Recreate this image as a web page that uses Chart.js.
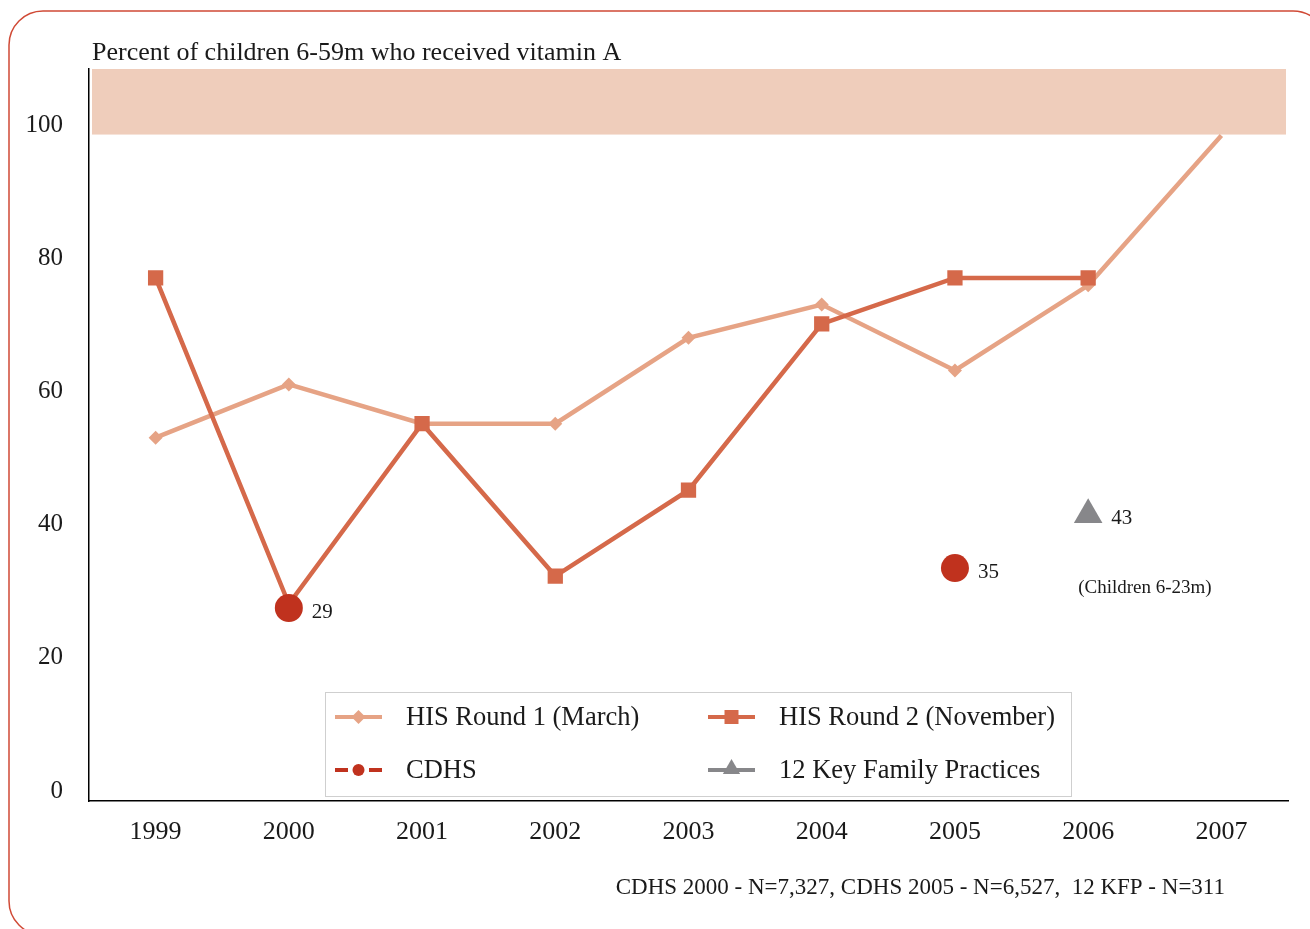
<!DOCTYPE html>
<html>
<head>
<meta charset="utf-8">
<script src="https://cdn.jsdelivr.net/npm/chart.js@4/dist/chart.umd.min.js"></script>
<style>
  html, body { margin: 0; padding: 0; background: #ffffff; }
  #wrap { position: relative; width: 1310px; height: 929px; }
</style>
</head>
<body>
<div id="wrap"><canvas id="c" width="1310" height="929"></canvas></div>
<script>
// ---- data ----
const years = ['1999', '2000', '2001', '2002', '2003', '2004', '2005', '2006', '2007'];
const hisRound1 = [54.6, 62.6, 56.7, 56.7, 69.6, 74.6, 64.7, 77.5, 100];
const hisRound2 = [78.6, 29.6, 56.7, 33.8, 46.7, 71.7, 78.6, 78.6, null];
const cdhs = [null, 29, null, null, null, null, 35, null, null];
const kfp = [null, null, null, null, null, null, null, 43, null];
const yTicks = [0, 20, 40, 60, 80, 100];
const targetBand = [100, 110];
const seriesNames = ['HIS Round 1 (March)', 'HIS Round 2 (November)', 'CDHS', '12 Key Family Practices'];
const titleText = 'Percent of children 6-59m who received vitamin A';
const noteText = '(Children 6-23m)';
const footText = 'CDHS 2000 - N=7,327, CDHS 2005 - N=6,527,  12 KFP - N=311';

const FONT = "'Liberation Serif', 'DejaVu Serif', serif";
const C1 = '#e6a385';
const C2 = '#d5694a';
const C3 = '#c0321e';
const C4 = '#87878a';
const TXT = '#1a1a1a';

function drawMarker(ctx, style, x, y, r, color) {
  ctx.save();
  ctx.fillStyle = color;
  ctx.beginPath();
  if (style === 'diamond') {
    ctx.moveTo(x, y - r); ctx.lineTo(x + r, y); ctx.lineTo(x, y + r); ctx.lineTo(x - r, y);
  } else if (style === 'square') {
    ctx.rect(x - r, y - r, 2 * r, 2 * r);
  } else if (style === 'circle') {
    ctx.arc(x, y, r, 0, Math.PI * 2);
  } else if (style === 'triangle') {
    const h = r * 1.732;
    ctx.moveTo(x, y - r); ctx.lineTo(x + h / 2, y + r / 2); ctx.lineTo(x - h / 2, y + r / 2);
  }
  ctx.closePath();
  ctx.fill();
  ctx.restore();
}

const decor = {
  id: 'decor',
  beforeDraw(chart) {
    const ctx = chart.ctx;
    ctx.save();
    ctx.fillStyle = '#ffffff';
    ctx.fillRect(0, 0, chart.width, chart.height);
    ctx.strokeStyle = '#d04a36';
    ctx.lineWidth = 1.5;
    ctx.beginPath();
    ctx.roundRect(9, 11, 1318, 924, 34);
    ctx.stroke();
    ctx.restore();
  },
  beforeDatasetsDraw(chart) {
    const {ctx, chartArea, scales} = chart;
    const yTop = scales.y.getPixelForValue(targetBand[1]);
    const yBot = scales.y.getPixelForValue(targetBand[0]);
    ctx.save();
    ctx.fillStyle = '#efcdbb';
    ctx.fillRect(chartArea.left + 3, yTop, chartArea.right - chartArea.left - 5, yBot - yTop - 1);
    ctx.restore();
  },
  afterDatasetsDraw(chart) {
    const ctx = chart.ctx;
    ctx.save();
    ctx.fillStyle = TXT;
    ctx.font = '21px ' + FONT;
    ctx.textAlign = 'left';
    ctx.textBaseline = 'middle';
    [2, 3].forEach(di => {
      const meta = chart.getDatasetMeta(di);
      const data = chart.data.datasets[di].data;
      meta.data.forEach((pt, i) => {
        if (data[i] == null) return;
        ctx.fillText(String(data[i]), pt.x + 23, pt.y + 4);
        if (di === 3) {
          ctx.save();
          ctx.font = '19px ' + FONT;
          ctx.fillText(noteText, pt.x - 10, pt.y + 73);
          ctx.restore();
        }
      });
    });
    ctx.restore();
  },
  afterDraw(chart) {
    const ctx = chart.ctx;
    ctx.save();
    // title
    ctx.fillStyle = TXT;
    ctx.font = '26px ' + FONT;
    ctx.textAlign = 'left';
    ctx.textBaseline = 'middle';
    ctx.fillText(titleText, 92, 53);
    // footnote
    ctx.font = '23px ' + FONT;
    ctx.textAlign = 'right';
    ctx.fillText(footText, 1225, 888);
    // legend
    const bx = 325, by = 692, bw = 746, bh = 104;
    ctx.fillStyle = '#ffffff';
    ctx.fillRect(bx, by, bw, bh);
    ctx.strokeStyle = '#cfcfcf';
    ctx.lineWidth = 1;
    ctx.strokeRect(bx + 0.5, by + 0.5, bw, bh);
    const items = [
      {x: 335, y: 717, c: C1, m: 'diamond', r: 7, dash: false},
      {x: 708, y: 717, c: C2, m: 'square', r: 7, dash: false},
      {x: 335, y: 770, c: C3, m: 'circle', r: 6, dash: true},
      {x: 708, y: 770, c: C4, m: 'triangle', r: 10, dash: false}
    ];
    items.forEach((it, i) => {
      ctx.strokeStyle = it.c;
      ctx.lineWidth = 4;
      ctx.beginPath();
      if (it.dash) {
        ctx.moveTo(it.x, it.y); ctx.lineTo(it.x + 13, it.y);
        ctx.moveTo(it.x + 34, it.y); ctx.lineTo(it.x + 47, it.y);
      } else {
        ctx.moveTo(it.x, it.y); ctx.lineTo(it.x + 47, it.y);
      }
      ctx.stroke();
      drawMarker(ctx, it.m, it.x + 23.5, it.y + (it.m === 'triangle' ? -1 : 0), it.r, it.c);
      ctx.fillStyle = TXT;
      ctx.font = '26.5px ' + FONT;
      ctx.textAlign = 'left';
      ctx.textBaseline = 'middle';
      ctx.fillText(seriesNames[i], it.x + 71, it.y + 1);
    });
    ctx.restore();
  }
};

new Chart(document.getElementById('c'), {
  type: 'line',
  data: {
    labels: years,
    datasets: [
      {
        label: seriesNames[0], data: hisRound1,
        borderColor: C1, backgroundColor: C1, borderWidth: 4.5,
        pointStyle: 'rectRot', pointRadius: hisRound1.map((v, i) => i === hisRound1.length - 1 ? 0 : 7),
        pointBorderWidth: 0, tension: 0, order: 2
      },
      {
        label: seriesNames[1], data: hisRound2,
        borderColor: C2, backgroundColor: C2, borderWidth: 4.5,
        pointStyle: 'rect', pointRadius: 10.8, pointBorderWidth: 0, tension: 0, order: 1
      },
      {
        label: seriesNames[2], data: cdhs, showLine: false,
        borderColor: C3, backgroundColor: C3,
        pointStyle: 'circle', pointRadius: 14, pointBorderWidth: 0, order: 0
      },
      {
        label: seriesNames[3], data: kfp, showLine: false,
        borderColor: C4, backgroundColor: C4,
        pointStyle: 'triangle', pointRadius: 16.5, pointBorderWidth: 0, order: 0
      }
    ]
  },
  options: {
    responsive: false,
    animation: false,
    spanGaps: false,
    layout: { padding: { top: 69, right: 22, bottom: 68, left: 0 } },
    plugins: { legend: { display: false }, title: { display: false }, tooltip: { enabled: false } },
    scales: {
      x: {
        type: 'category', offset: true,
        grid: { display: false, drawTicks: false },
        border: { display: true, color: '#000000', width: 1.5 },
        ticks: { color: TXT, font: { family: FONT, size: 26 }, padding: 16, maxRotation: 0 },
        afterFit(scale) { scale.height = 60; }
      },
      y: {
        min: 0, max: targetBand[1],
        grid: { display: false, drawTicks: false },
        border: { display: true, color: '#000000', width: 1.5 },
        ticks: { color: TXT, font: { family: FONT, size: 25 }, padding: 26, labelOffset: -10 },
        afterBuildTicks(scale) { scale.ticks = yTicks.map(v => ({ value: v })); },
        afterFit(scale) { scale.width = 89; }
      }
    }
  },
  plugins: [decor]
});
</script>
</body>
</html>
